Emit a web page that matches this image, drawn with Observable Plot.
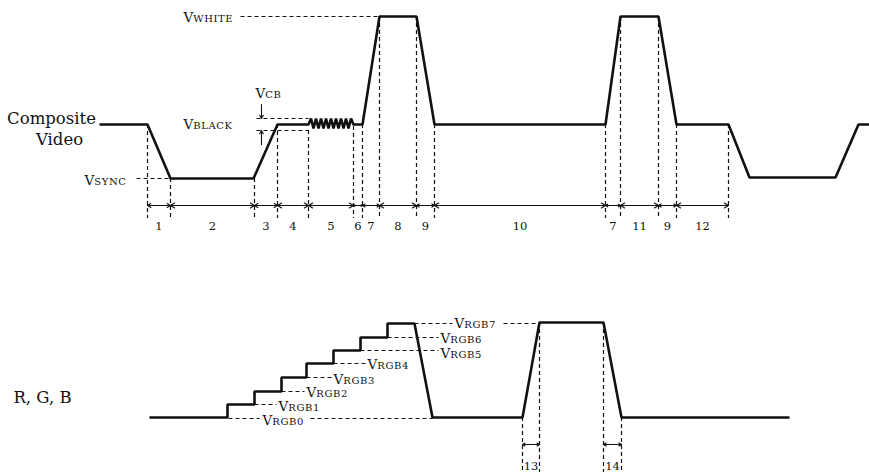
<!DOCTYPE html>
<html><head><meta charset="utf-8">
<script src="https://cdn.jsdelivr.net/npm/d3@7"></script>
<script src="https://cdn.jsdelivr.net/npm/@observablehq/plot@0.6"></script>
<style>body{margin:0;background:#fff} svg{display:block}</style>
</head><body><div id="chart"></div>
<script>
// ---- Composite video waveform (time, level; level axis points down) ----
const compT = [100,147,170,253,277,308,310.5,313,315.5,318,320.5,323,325.5,328,330.5,333,335.5,338,340.5,343,345.5,348,350.5,353,362,379,416,434,605,620,658,676,728,749,835,858,869];
const compV = [124,124,178,178,124,124,118,128,118,128,118,128,118,128,118,128,118,128,118,128,118,128,118,124,124,16,16,124,124,16,16,124,124,177,177,124,124];

// timing boundaries of the composite signal and where each boundary meets the waveform
const tickX   = [147,170,254,277,308,353,362,379,416,434,605,620,658,676,728];
const tickTop = [124,178,178,124,130,126,124,16,16,124,124,16,16,124,124];
const tickBottom = 218;
const timingY = 205;
const segLabelY = 226;
const segLabels = ["1","2","3","4","5","6","7","8","9","10","7","11","9","12"];

// ---- R, G, B staircase waveform ----
const rgbT = [150,227,227,254,254,281,281,306,306,333,333,360,360,387,387,414,432,522,539,603,621,788];
const rgbV = [417,417,404,404,391,391,377,377,363,363,350,350,337,337,323,323,417,417,322,322,417,417];
const rgbTickX   = [522,539,603,621];
const rgbTickTop = [417,322,322,417];
const rgbTickBottom = 472;
const rgbTimingY = 444;
const rgbSegLabelY = 466;
const rgbSegLabels = ["13","14"];

// ---- level labels (V + subscript) ----
const levelNames = ["SYNC","BLACK","CB","WHITE","RGB0","RGB1","RGB2","RGB3","RGB4","RGB5","RGB6","RGB7"];
const levelX     = [84,183,255,183,262,278,306,333,367,440,440,454];
const levelY     = [180,124,93,17,420,406,392,379,364,353,338,323];

// dashed leader lines for the level labels
const leadX1 = [136,240,256,256,228,310,254,281,306,333,360,387,414,503];
const leadX2 = [170,379,308,308,259,432,276,304,331,365,438,438,452,539];
const leadY  = [178,16,118,130,418,418,404,391,377,363,350,337,323,323];

// V_CB amplitude arrows
const cbX = 261;
const cbFrom = [104,144];
const cbTo   = [118,130];

// side titles
const sideLabels = ["Composite","Video","R, G, B"];
const sideX = [51,59,42];
const sideY = [118,139,397];

// ---- tables built from the arrays ----
const comp = compT.map((t,i)=>({t, v: compV[i]}));
const rgb  = rgbT.map((t,i)=>({t, v: rgbV[i]}));
const ticks = tickX.map((x,i)=>({x, y1: tickTop[i], y2: tickBottom}))
  .concat(rgbTickX.map((x,i)=>({x, y1: rgbTickTop[i], y2: rgbTickBottom})));
const leads = leadX1.map((x1,i)=>({x1, x2: leadX2[i], y: leadY[i]}));
const arrows = [];
const segs = [];
d3.pairs(tickX).forEach(([a,b],i)=>{
  const m=(a+b)/2;
  arrows.push({x1:m,x2:a,y:timingY},{x1:m,x2:b,y:timingY});
  segs.push({x:m,y:segLabelY,label:segLabels[i]});
});
[[0,1],[2,3]].forEach(([i,j],k)=>{
  const a=rgbTickX[i], b=rgbTickX[j], m=(a+b)/2;
  arrows.push({x1:m,x2:a,y:rgbTimingY},{x1:m,x2:b,y:rgbTimingY});
  segs.push({x:m,y:rgbSegLabelY,label:rgbSegLabels[k]});
});
const levels = levelNames.map((s,i)=>({s, x: levelX[i], y: levelY[i]}));
const cbArrows = cbFrom.map((f,i)=>({y1:f, y2: cbTo[i]}));
const sides = sideLabels.map((s,i)=>({s, x: sideX[i], y: sideY[i]}));

const ink = "#111";
const chart = Plot.plot({
  width: 869, height: 472, margin: 0,
  x: {domain:[0,869], range:[0,869], axis:null},
  y: {domain:[0,472], range:[0,472], axis:null},
  style: {fontFamily: "DejaVu Serif", background:"#fff", color: ink},
  marks: [
    Plot.ruleX(ticks, {x:"x", y1:"y1", y2:"y2", stroke: ink, strokeWidth:1.2, strokeDasharray:"4,3"}),
    Plot.link(leads, {x1:"x1", x2:"x2", y1:"y", y2:"y", stroke: ink, strokeWidth:1.1, strokeDasharray:"4,3"}),
    Plot.arrow(arrows, {x1:"x1", x2:"x2", y1:"y", y2:"y", stroke: ink, strokeWidth:1.2, headLength:6}),
    Plot.arrow(cbArrows, {x1: cbX, x2: cbX, y1:"y1", y2:"y2", stroke: ink, strokeWidth:1.1, headLength:5}),
    Plot.line(comp, {x:"t", y:"v", stroke: ink, strokeWidth:2.6, strokeLinejoin:"miter"}),
    Plot.line(rgb, {x:"t", y:"v", stroke: ink, strokeWidth:2.6, strokeLinejoin:"miter"}),
    Plot.text(segs, {x:"x", y:"y", text:"label", fontSize:11.5, fill: ink}),
    Plot.text(levels, {x:"x", y:"y", text: d=>"V"+d.s, textAnchor:"start", fontSize:13.5, fill: ink}),
    Plot.text(sides, {x:"x", y:"y", text:"s", fontSize:16.5, fill: ink})
  ]
});
const subs = new Set(levelNames.map(s=>"V"+s));
d3.select(chart).selectAll("text").each(function(){
  const t = this.textContent;
  if (subs.has(t)) {
    const s = d3.select(this); s.text("");
    s.append("tspan").text("V");
    s.append("tspan").attr("font-size", 10).attr("letter-spacing", 0.6).text(t.slice(1));
  }
});
document.getElementById("chart").append(chart);
</script></body></html>
